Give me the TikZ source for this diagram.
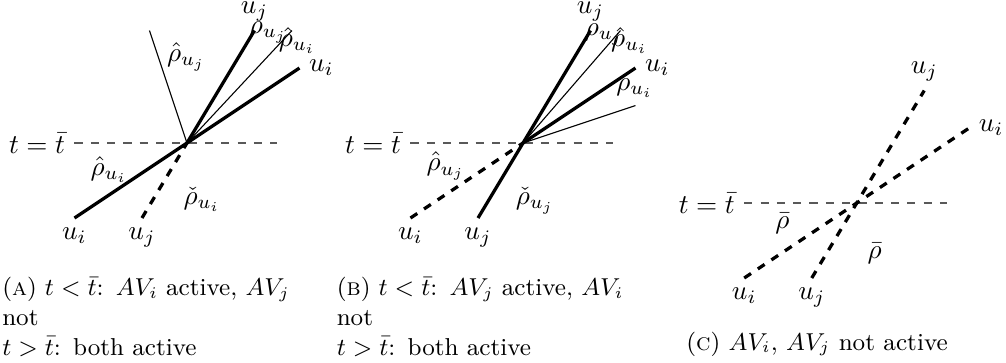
\documentclass[tikz,border=0pt]{standalone}
\usepackage{amsmath,amssymb}
\usepackage{tikz}

\begin{document}
\begin{tikzpicture}[x=0.97cm,y=0.97cm,
    act/.style={line width=1.2pt},
    nact/.style={line width=1.2pt,dashed},
    bound/.style={thin},
    level/.style={dashed,black!65},
    toplab/.style={above=2.3pt,inner sep=1pt},
    capt/.style={font=\small,text width=3.9cm,align=left,inner sep=0pt}]
  \useasboundingbox (-2.493,-2.92) rectangle (10.92,1.907);
  % (a) AV_i active
  \begin{scope}
    \coordinate (O) at (0,0);
    \coordinate (L) at (-1.5,0);
    \coordinate (R) at (1.2,0);
    \coordinate (I1) at (-1.5,-1);
    \coordinate (I2) at (1.5,1);
    \coordinate (J1) at (-0.6,-1);
    \coordinate (J2) at (0.9,1.5);
    \coordinate (H1) at (1.4,1.5);
    \coordinate (H2) at (-0.5,1.5);
    \draw[level] (L)--(R);
    \draw[act] (I1)--(I2);
    \draw[nact] (J1)--(O);
    \draw[act] (O)--(J2);
    \draw[bound] (O)--(H1) (O)--(H2);
    \node[left] (ta) at (L) {$t=\bar t$};
    \node[below] (uia) at (I1) {$u_i$};
    \node[right] (uib) at (I2) {$u_i$};
    \node[below] (uja) at (J1) {$u_j$};
    \node[toplab] (ujb) at (J2) {$u_j$};
    \node (ra) at (1.08,1.47) {$\rho_{u_j}$};
    \node (rb) at (1.47,1.37) {$\hat\rho_{u_i}$};
    \node (rc) at (-0.01,1.15) {$\hat\rho_{u_j}$};
    \node (rd) at (-1.04,-0.35) {$\hat\rho_{u_i}$};
    \node (re) at (0.2,-0.75) {$\check\rho_{u_i}$};
    \node[capt,anchor=north west] (capa) at (-2.47,-1.78)
      {(\textsc{a}) $t<\bar t$: $AV_i$ active, $AV_j$\\not\\$t>\bar t$: both active};
  \end{scope}
  % (b) AV_j active
  \begin{scope}[shift={(4.48,0)}]
    \coordinate (O) at (0,0);
    \coordinate (L) at (-1.5,0);
    \coordinate (R) at (1.2,0);
    \coordinate (I1) at (-1.5,-1);
    \coordinate (I2) at (1.5,1);
    \coordinate (J1) at (-0.6,-1);
    \coordinate (J2) at (0.9,1.5);
    \coordinate (H1) at (1.3,1.5);
    \coordinate (H2) at (1.5,0.5);
    \draw[level] (L)--(R);
    \draw[nact] (I1)--(O);
    \draw[act] (O)--(I2);
    \draw[act] (J1)--(J2);
    \draw[bound] (O)--(H1) (O)--(H2);
    \node[left] (tb) at (L) {$t=\bar t$};
    \node[below] (uic) at (I1) {$u_i$};
    \node[right] (uid) at (I2) {$u_i$};
    \node[below] (ujc) at (J1) {$u_j$};
    \node[toplab] (ujd) at (J2) {$u_j$};
    \node (rf) at (1.08,1.45) {$\rho_{u_j}$};
    \node (rg) at (1.42,1.37) {$\hat\rho_{u_i}$};
    \node (rh) at (1.49,0.73) {$\rho_{u_i}$};
    \node (ri) at (-1.03,-0.31) {$\hat\rho_{u_j}$};
    \node (rj) at (0.16,-0.77) {$\check\rho_{u_j}$};
    \node[capt,anchor=north west] (capb) at (-2.49,-1.78)
      {(\textsc{b}) $t<\bar t$: $AV_j$ active, $AV_i$\\not\\$t>\bar t$: both active};
  \end{scope}
  % (c) none active
  \begin{scope}[shift={(8.93,-0.8)}]
    \coordinate (O) at (0,0);
    \coordinate (L) at (-1.5,0);
    \coordinate (R) at (1.2,0);
    \coordinate (I1) at (-1.5,-1);
    \coordinate (I2) at (1.5,1);
    \coordinate (J1) at (-0.6,-1);
    \coordinate (J2) at (0.9,1.5);
    \draw[level] (L)--(R);
    \draw[nact] (I1)--(I2);
    \draw[nact] (J1)--(J2);
    \node[left] (tc) at (L) {$t=\bar t$};
    \node[below] (uie) at (I1) {$u_i$};
    \node[right] (uif) at (I2) {$u_i$};
    \node[below] (uje) at (J1) {$u_j$};
    \node[above] (ujf) at (J2) {$u_j$};
    \node (rk) at (-0.99,-0.27) {$\bar\rho$};
    \node (rl) at (0.24,-0.67) {$\bar\rho$};
    \node[font=\small,anchor=base] (capc) at (-0.53,-1.96)
      {(\textsc{c}) $AV_i$, $AV_j$ not active};
  \end{scope}
\end{tikzpicture}
\end{document}
